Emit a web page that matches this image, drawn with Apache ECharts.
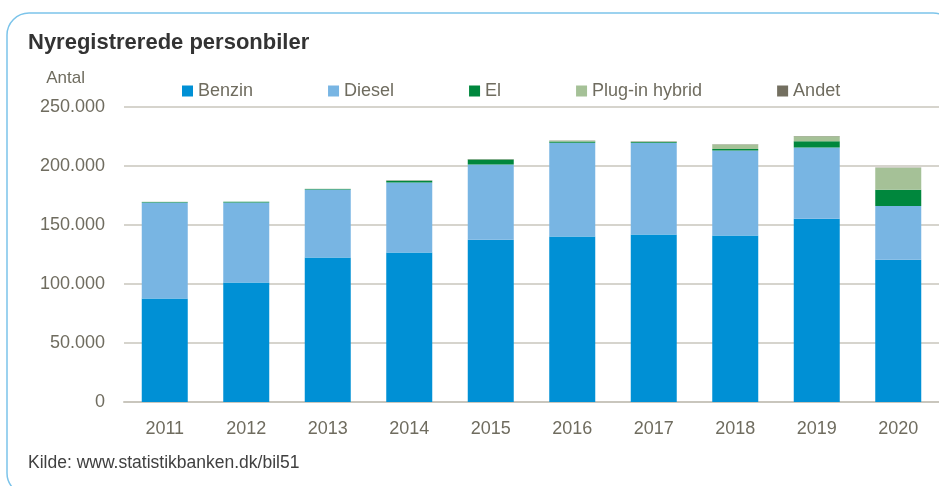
<!DOCTYPE html>
<html>
<head>
<meta charset="utf-8">
<script src="https://cdn.jsdelivr.net/npm/echarts@6/dist/echarts.min.js"></script>
<style>
  html, body { margin: 0; padding: 0; background: #fff; }
  #main { width: 939px; height: 486px; }
</style>
</head>
<body>
<div id="main"></div>
<script>
var chartDom = document.getElementById('main');
var myChart = echarts.init(chartDom);
var option;

// data (antal biler)
var years = ['2011', '2012', '2013', '2014', '2015', '2016', '2017', '2018', '2019', '2020'];
var benzin = [87700, 101300, 122400, 126600, 137400, 140200, 141900, 141000, 155400, 120500];
var diesel = [81300, 67800, 57700, 59400, 63900, 79400, 77700, 72100, 60300, 45600];
var el = [500, 500, 500, 1600, 4300, 1200, 700, 1400, 5300, 13800];
var plugin = [100, 100, 100, 200, 200, 700, 500, 3700, 4300, 18600];
var andet = [100, 100, 100, 100, 100, 200, 200, 200, 200, 200];

var textColor = '#6f6c5f';
var fontFam = '"Liberation Sans", Arial, sans-serif';

function bar(name, data, color) {
  return {
    name: name,
    type: 'bar',
    stack: 'total',
    barWidth: 46,
    data: data,
    itemStyle: {
      color: color
    }
  };
}

option = {
  animation: false,
  backgroundColor: '#fff',
  textStyle: { fontFamily: fontFam },
  title: {
    text: 'Nyregistrerede personbiler',
    left: 28,
    top: 32,
    padding: 0,
    textStyle: {
      fontFamily: fontFam,
      fontSize: 22,
      fontWeight: 'bold',
      color: '#333333'
    }
  },
  legend: {
    left: 182,
    top: 82,
    padding: 0,
    itemWidth: 11,
    itemHeight: 11,
    itemGap: 75,
    icon: 'rect',
    textStyle: { color: textColor, fontSize: 18, fontFamily: fontFam },
    data: ['Benzin', 'Diesel', 'El', 'Plug-in hybrid', 'Andet']
  },
  grid: {
    left: 124,
    right: -13,
    top: 107,
    bottom: 84
  },
  xAxis: {
    type: 'category',
    data: years,
    axisLine: { lineStyle: { color: '#c9c6bd', width: 2 } },
    axisTick: { show: false },
    axisLabel: { color: textColor, fontSize: 18, margin: 18 }
  },
  yAxis: {
    type: 'value',
    min: 0,
    max: 250000,
    interval: 50000,
    name: 'Antal',
    nameLocation: 'end',
    nameGap: 20,
    nameTextStyle: { color: textColor, fontSize: 17, align: 'right', padding: [0, 39, 0, 0] },
    axisLine: { show: false },
    axisTick: { show: false },
    axisLabel: {
      color: textColor,
      fontSize: 18,
      margin: 19,
      formatter: function (v) {
        return String(v).replace(/\B(?=(\d{3})+(?!\d))/g, '.');
      }
    },
    splitLine: { lineStyle: { color: '#c9c6bd', width: 1.5 } }
  },
  graphic: [
    {
      type: 'rect',
      shape: { x: 7, y: 13, width: 948, height: 482, r: 22 },
      style: { fill: 'none', stroke: '#7cc4ea', lineWidth: 1.5 },
      silent: true,
      z: -1
    },
    {
      type: 'text',
      left: 28,
      top: 454,
      style: {
        text: 'Kilde: www.statistikbanken.dk/bil51',
        fill: '#404040',
        fontSize: 17.5,
        fontFamily: fontFam
      }
    }
  ],
  series: [
    bar('Benzin', benzin, '#0090d5'),
    bar('Diesel', diesel, '#78b5e3'),
    bar('El', el, '#00873d'),
    bar('Plug-in hybrid', plugin, '#a5c197'),
    bar('Andet', andet, '#736f60')
  ]
};

option && myChart.setOption(option);
</script>
</body>
</html>
